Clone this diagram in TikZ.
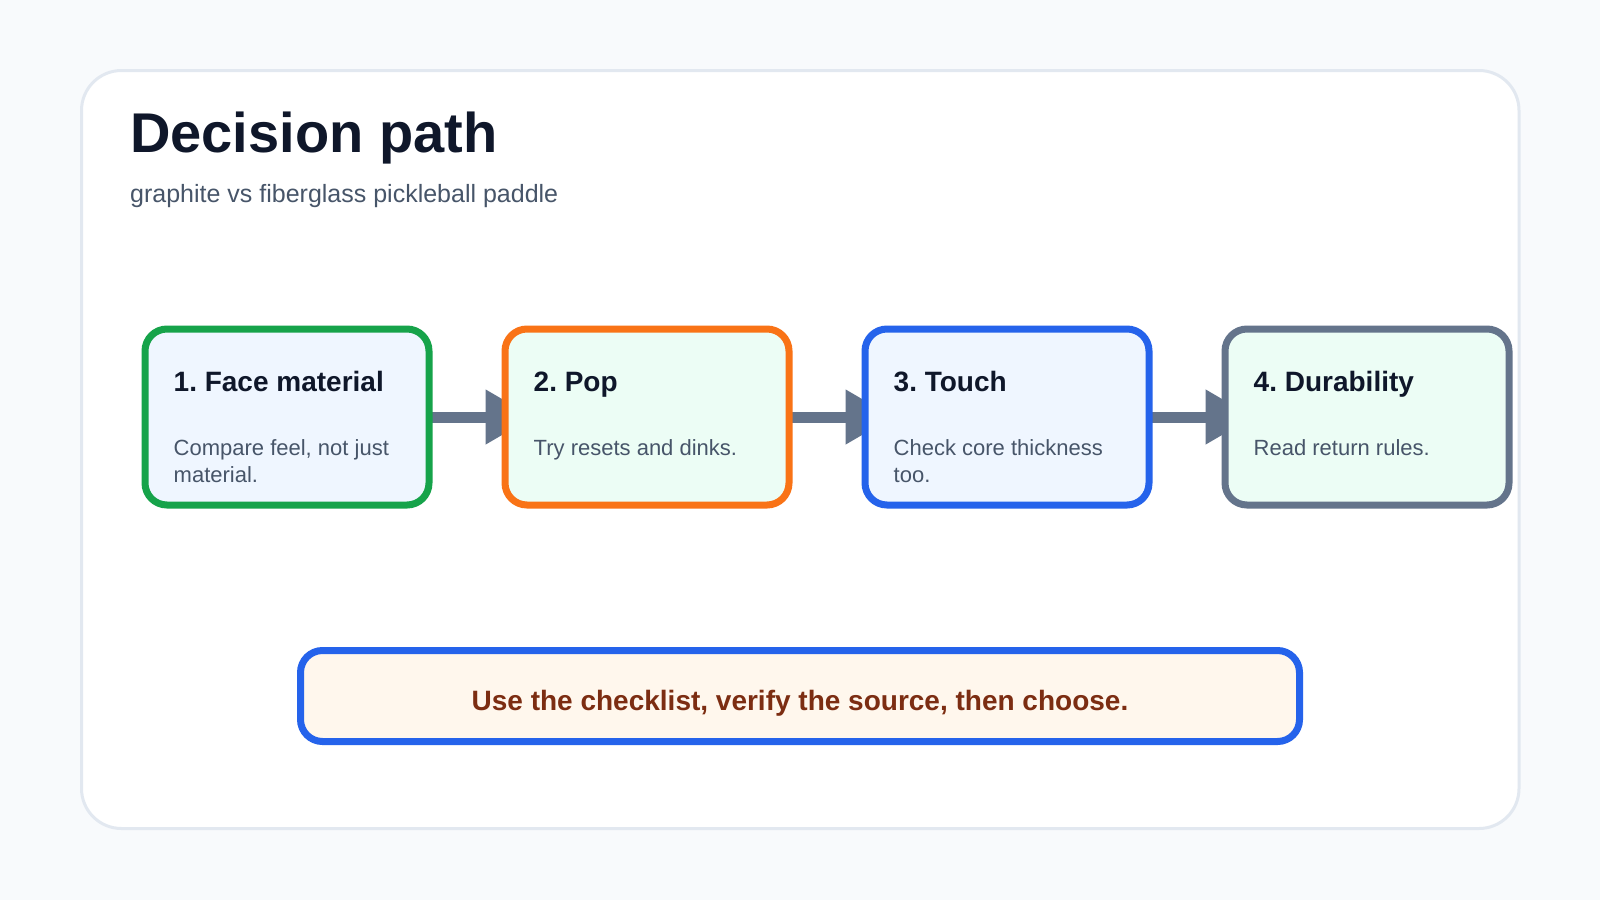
\documentclass[tikz,border=0pt]{standalone}
\usepackage{fontspec}
\setmainfont{Liberation Sans}
\usetikzlibrary{arrows.meta}
\frenchspacing
\definecolor{pagebg}{HTML}{F8FAFC}
\definecolor{cardline}{HTML}{E2E8F0}
\definecolor{headc}{HTML}{0F172A}
\definecolor{bodyc}{HTML}{475569}
\definecolor{arrowc}{HTML}{64748B}
\definecolor{greenc}{HTML}{16A34A}
\definecolor{orangec}{HTML}{F97316}
\definecolor{bluec}{HTML}{2563EB}
\definecolor{slatec}{HTML}{64748B}
\definecolor{fillblue}{HTML}{EFF6FF}
\definecolor{fillmint}{HTML}{ECFDF5}
\definecolor{fillcream}{HTML}{FFF7ED}
\definecolor{footc}{HTML}{7C2D12}
\pgfdeclarelayer{cardlayer}
\pgfdeclarelayer{arrowlayer}
\pgfsetlayers{cardlayer,arrowlayer,main}
\begin{document}
\begin{tikzpicture}[x=1pt,y=-1pt,
  stepbox/.style={draw, line width=7pt, rounded corners=22pt, minimum width=284pt, minimum height=176pt, inner sep=0pt},
  headtext/.style={anchor=base west, inner sep=0pt, font=\fontsize{28}{34}\selectfont\bfseries, text=headc},
  bodytext/.style={anchor=north west, inner sep=0pt, align=left, font=\fontsize{22}{27}\selectfont, text=bodyc},
  flowarrow/.style={draw=arrowc, fill=arrowc, line width=11pt, line cap=round, -{Triangle[length=48pt,width=52pt]}}
]
\begin{pgfonlayer}{cardlayer}
\useasboundingbox[fill=pagebg] (0,0) rectangle (1600,900);
\draw[fill=white, draw=cardline, line width=3pt, rounded corners=40pt] (81.5,70.5) rectangle (1519,828.5);
\end{pgfonlayer}
% title
\node[anchor=base west, inner sep=0pt, font=\fontsize{56}{64}\selectfont\bfseries, text=headc] (title) at (130,152) {Decision path};
\node[anchor=base west, inner sep=0pt, font=\fontsize{25}{30}\selectfont, text=bodyc] (subtitle) at (130,202) {graphite vs fiberglass pickleball paddle};
% boxes
\node[stepbox, draw=greenc, fill=fillblue] (b1) at (287,417) {};
\node[stepbox, draw=orangec, fill=fillmint] (b2) at (647,417) {};
\node[stepbox, draw=bluec, fill=fillblue] (b3) at (1007,417) {};
\node[stepbox, draw=slatec, fill=fillmint] (b4) at (1367,417) {};
% texts
\node[headtext] (h1) at (173.5,391) {1. Face material};
\node[bodytext] (t1) at (173.5,439) {Compare feel, not just\\material.};
\node[headtext] (h2) at (533.5,391) {2. Pop};
\node[bodytext] (t2) at (533.5,439) {Try resets and dinks.};
\node[headtext] (h3) at (893.5,391) {3. Touch};
\node[bodytext] (t3) at (893.5,439) {Check core thickness\\too.};
\node[headtext] (h4) at (1253.5,391) {4. Durability};
\node[bodytext] (t4) at (1253.5,439) {Read return rules.};
% arrows (beneath the boxes)
\begin{pgfonlayer}{arrowlayer}
\draw[flowarrow] (b1.east) -- ([xshift=32pt]b2.west);
\draw[flowarrow] (b2.east) -- ([xshift=32pt]b3.west);
\draw[flowarrow] (b3.east) -- ([xshift=32pt]b4.west);
\end{pgfonlayer}
% footer
\node[draw=bluec, fill=fillcream, line width=7pt, rounded corners=22pt, minimum width=999pt, minimum height=91pt, inner sep=0pt] (foot) at (800,696) {};
\node[anchor=base, inner sep=0pt, font=\fontsize{28}{34}\selectfont\bfseries, text=footc] (foottext) at (800,710) {Use the checklist, verify the source, then choose.};
\end{tikzpicture}
\end{document}
